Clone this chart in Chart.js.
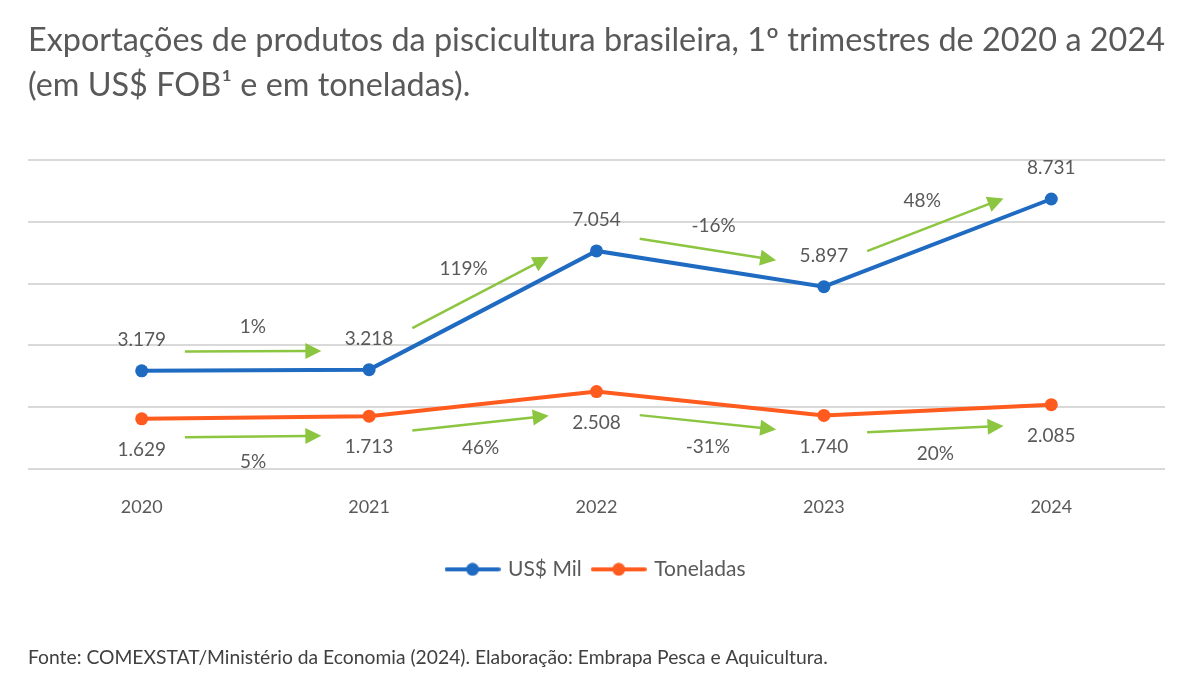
<!DOCTYPE html>
<html><head><meta charset="utf-8">
<script src="https://cdn.jsdelivr.net/npm/chart.js@4/dist/chart.umd.min.js"></script>
<style>html,body{margin:0;padding:0;background:#fff}#wrap{width:1200px;height:700px;position:relative}</style>
</head><body><div id="wrap"><canvas id="c"></canvas></div>
<script>
// ---- data ----
const years = ['2020', '2021', '2022', '2023', '2024'];
const usdMil = [3179, 3218, 7054, 5897, 8731];
const toneladas = [1629, 1713, 2508, 1740, 2085];
const usdGrowth = ['1%', '119%', '-16%', '48%'];
const tonGrowth = ['5%', '46%', '-31%', '20%'];
const seriesNames = ['US$ Mil', 'Toneladas'];
const yTicks = [0, 2000, 4000, 6000, 8000, 10000];
const titleLines = ['Exportações de produtos da piscicultura brasileira, 1º trimestres de 2020 a 2024', '(em US$ FOB¹ e em toneladas).'];
const sourceText = 'Fonte: COMEXSTAT/Ministério da Economia (2024). Elaboração: Embrapa Pesca e Aquicultura.';

// ---- styles ----
const FONT = 'Lato, "Open Sans", sans-serif';
const BLUE = '#1f6bc1', ORANGE = '#ff5b1f', GREEN = '#8cc540', TEXT = '#595959';

function fmt(v) { return String(Math.round(v)).replace(/\B(?=(\d{3})+(?!\d))/g, '.'); }

function legendIcon(color) {
  const c = document.createElement('canvas');
  c.width = 56; c.height = 14;
  const g = c.getContext('2d');
  g.strokeStyle = color; g.lineWidth = 4; g.lineCap = 'round';
  g.beginPath(); g.moveTo(2, 7); g.lineTo(54, 7); g.stroke();
  g.fillStyle = color; g.beginPath(); g.arc(28, 7, 6.5, 0, Math.PI * 2); g.fill();
  return c;
}

const annotate = {
  id: 'annotate',
  afterDatasetsDraw(chart) {
    const ctx = chart.ctx;
    const cfg = [
      { growth: usdGrowth, side: -1 },
      { growth: tonGrowth, side: 1 }
    ];
    cfg.forEach((c, di) => {
      const pts = chart.getDatasetMeta(di).data;
      const vals = chart.data.datasets[di].data;
      ctx.save();
      ctx.font = '19px ' + FONT;
      ctx.fillStyle = TEXT;
      ctx.textAlign = 'center';
      ctx.textBaseline = 'middle';
      pts.forEach((p, i) => {
        ctx.fillText(fmt(vals[i]), p.x, p.y + c.side * 31);
      });
      // arrows
      for (let i = 0; i < pts.length - 1; i++) {
        const a = pts[i], b = pts[i + 1];
        const sx = a.x + (b.x - a.x) * 0.19, sy = a.y + (b.y - a.y) * 0.19 + c.side * 19;
        const ex = a.x + (b.x - a.x) * 0.79, ey = a.y + (b.y - a.y) * 0.79 + c.side * 19;
        const ang = Math.atan2(ey - sy, ex - sx);
        const hl = 16, hw = 8;
        const bx = ex - hl * Math.cos(ang), by = ey - hl * Math.sin(ang);
        ctx.strokeStyle = GREEN; ctx.fillStyle = GREEN; ctx.lineWidth = 2.5;
        ctx.beginPath(); ctx.moveTo(sx, sy); ctx.lineTo(bx + 2 * Math.cos(ang), by + 2 * Math.sin(ang)); ctx.stroke();
        ctx.beginPath();
        ctx.moveTo(ex, ey);
        ctx.lineTo(bx + hw * Math.sin(ang), by - hw * Math.cos(ang));
        ctx.lineTo(bx - hw * Math.sin(ang), by + hw * Math.cos(ang));
        ctx.closePath(); ctx.fill();
        const mx = (sx + ex) / 2, my = (sy + ey) / 2;
        let lx = mx, ly = my + c.side * 25;
        if (c.side < 0) { lx = mx - 26 * Math.sin(-ang) * 1.4; ly = my - 24; }
        ctx.fillStyle = TEXT;
        ctx.fillText(c.growth[i], lx, ly);
      }
      ctx.restore();
    });
  }
};

new Chart(document.getElementById('c'), {
  type: 'line',
  data: {
    labels: years,
    datasets: [
      { label: seriesNames[0], data: usdMil, borderColor: BLUE, backgroundColor: BLUE, borderWidth: 4, pointRadius: 6.5, pointHoverRadius: 6.5, pointBackgroundColor: BLUE, pointBorderWidth: 0, tension: 0 },
      { label: seriesNames[1], data: toneladas, borderColor: ORANGE, backgroundColor: ORANGE, borderWidth: 4, pointRadius: 6.5, pointHoverRadius: 6.5, pointBackgroundColor: ORANGE, pointBorderWidth: 0, tension: 0 }
    ]
  },
  options: {
    responsive: true,
    maintainAspectRatio: false,
    animation: false,
    events: [],
    layout: { padding: { left: 28, right: 35, top: 8, bottom: 0 } },
    scales: {
      x: {
        offset: true,
        grid: { display: false, drawTicks: false },
        border: { display: false },
        ticks: { color: TEXT, font: { family: FONT, size: 18 }, padding: 27 },
        afterFit(scale) { scale.height += 2; }
      },
      y: {
        min: yTicks[0], max: yTicks[yTicks.length - 1],
        afterBuildTicks(scale) { scale.ticks = yTicks.map(v => ({ value: v })); },
        grid: { color: '#d9d9d9', lineWidth: 2, drawTicks: false },
        border: { display: false },
        ticks: { display: false }
      }
    },
    plugins: {
      title: {
        display: true, text: titleLines, align: 'start', color: TEXT,
        font: { family: FONT, size: 32.4, weight: 'normal', lineHeight: 1.4 },
        padding: { top: 10, bottom: 51 }
      },
      subtitle: {
        display: true, text: sourceText, position: 'bottom', align: 'start', color: '#404040',
        font: { family: FONT, size: 19.3, weight: 'normal', lineHeight: 1.2 },
        padding: { top: 56, bottom: 31 }
      },
      legend: {
        position: 'bottom',
        labels: {
          usePointStyle: true, pointStyleWidth: 50, padding: 12, color: TEXT,
          font: { family: FONT, size: 21 },
          generateLabels(chart) {
            return chart.data.datasets.map((d, i) => ({
              text: d.label, pointStyle: legendIcon(d.borderColor), fillStyle: d.borderColor,
              strokeStyle: d.borderColor, lineWidth: 0, hidden: false, datasetIndex: i, fontColor: TEXT
            }));
          }
        }
      },
      tooltip: { enabled: false }
    }
  },
  plugins: [annotate]
});
</script></body></html>
